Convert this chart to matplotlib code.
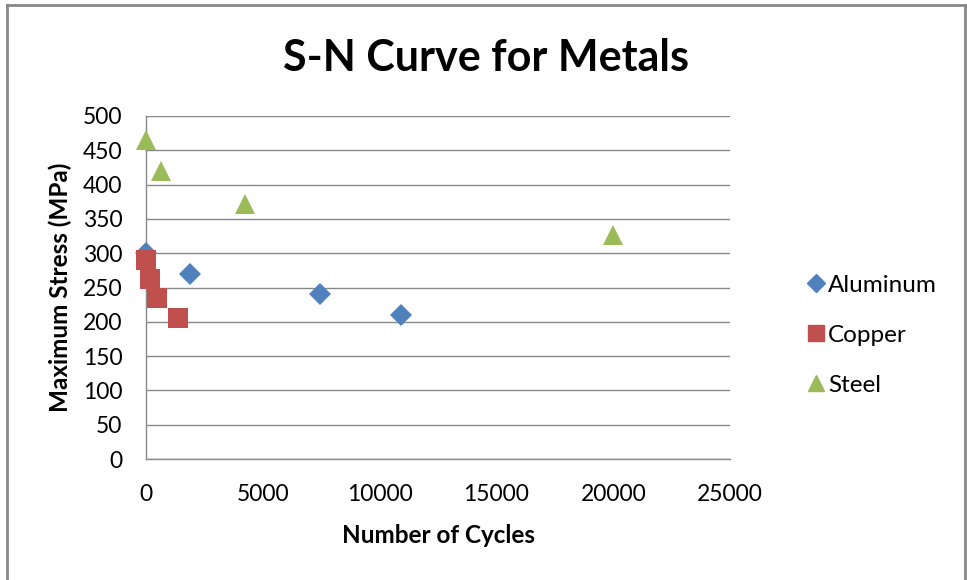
import matplotlib.pyplot as plt
from matplotlib.lines import Line2D

plt.rcParams['font.family'] = ['Lato', 'DejaVu Sans']

# fatigue test results: cycles to failure vs max stress
aluminum_cycles = [0, 1900, 7450, 10900]
aluminum_stress = [300, 270, 240, 210]

copper_cycles = [0, 170, 480, 1360]
copper_stress = [290, 262, 234, 205]

steel_cycles = [0, 650, 4250, 20000]
steel_stress = [465, 420, 372, 326]

x_ticks = [0, 5000, 10000, 15000, 20000, 25000]
y_ticks = list(range(0, 501, 50))

fig = plt.figure(figsize=(9.67, 5.8), dpi=100)
ax = fig.add_axes([0.151, 0.2086, 0.604, 0.5914])

ax.plot(aluminum_cycles, aluminum_stress, 'D', color='#4F81BD', markersize=11,
        markeredgewidth=0, label='Aluminum', clip_on=False, zorder=3)
ax.plot(copper_cycles, copper_stress, 's', color='#C0504D', markersize=14,
        markeredgewidth=0, label='Copper', clip_on=False, zorder=4)
ax.plot(steel_cycles, steel_stress, '^', color='#9BBB59', markersize=15,
        markeredgewidth=0, label='Steel', clip_on=False, zorder=3)

ax.set_xlim(0, 25000)
ax.set_ylim(0, 500)
ax.set_xticks(x_ticks)
ax.set_yticks(y_ticks)
ax.tick_params(axis='both', length=0, labelsize=16.5)
ax.tick_params(axis='y', pad=17)
ax.tick_params(axis='x', pad=18)

ax.grid(axis='y', color='#888888', linewidth=1)
ax.set_axisbelow(True)
for side in ['top', 'right']:
    ax.spines[side].set_visible(False)
for side in ['left', 'bottom']:
    ax.spines[side].set_color('#888888')
    ax.spines[side].set_linewidth(1)

ax.set_xlabel('Number of Cycles', fontsize=17.5, fontweight='bold', labelpad=14)
ax.set_ylabel('Maximum Stress (MPa)', fontsize=17.5, fontweight='bold', labelpad=8)

fig.text(0.503, 0.90, 'S-N Curve for Metals', fontsize=31, fontweight='bold',
         ha='center', va='center')

handles = [
    Line2D([], [], marker='D', color='#4F81BD', linestyle='none', markersize=9),
    Line2D([], [], marker='s', color='#C0504D', linestyle='none', markersize=11),
    Line2D([], [], marker='^', color='#9BBB59', linestyle='none', markersize=12),
]
fig.legend(handles, ['Aluminum', 'Copper', 'Steel'], loc='center left',
           bbox_to_anchor=(0.815, 0.422), frameon=False, fontsize=17.5,
           handlelength=0.5, handletextpad=0.25, labelspacing=1.2)

# chart border on left, top and right
border = dict(color='#888888', linewidth=2, transform=fig.transFigure)
fig.add_artist(Line2D([0.0075, 0.0075], [0.0, 0.991], **border))
fig.add_artist(Line2D([0.0075, 0.998], [0.991, 0.991], **border))
fig.add_artist(Line2D([0.998, 0.998], [0.0, 0.991], **border))

fig.savefig('out.png', dpi=100, facecolor='white')
